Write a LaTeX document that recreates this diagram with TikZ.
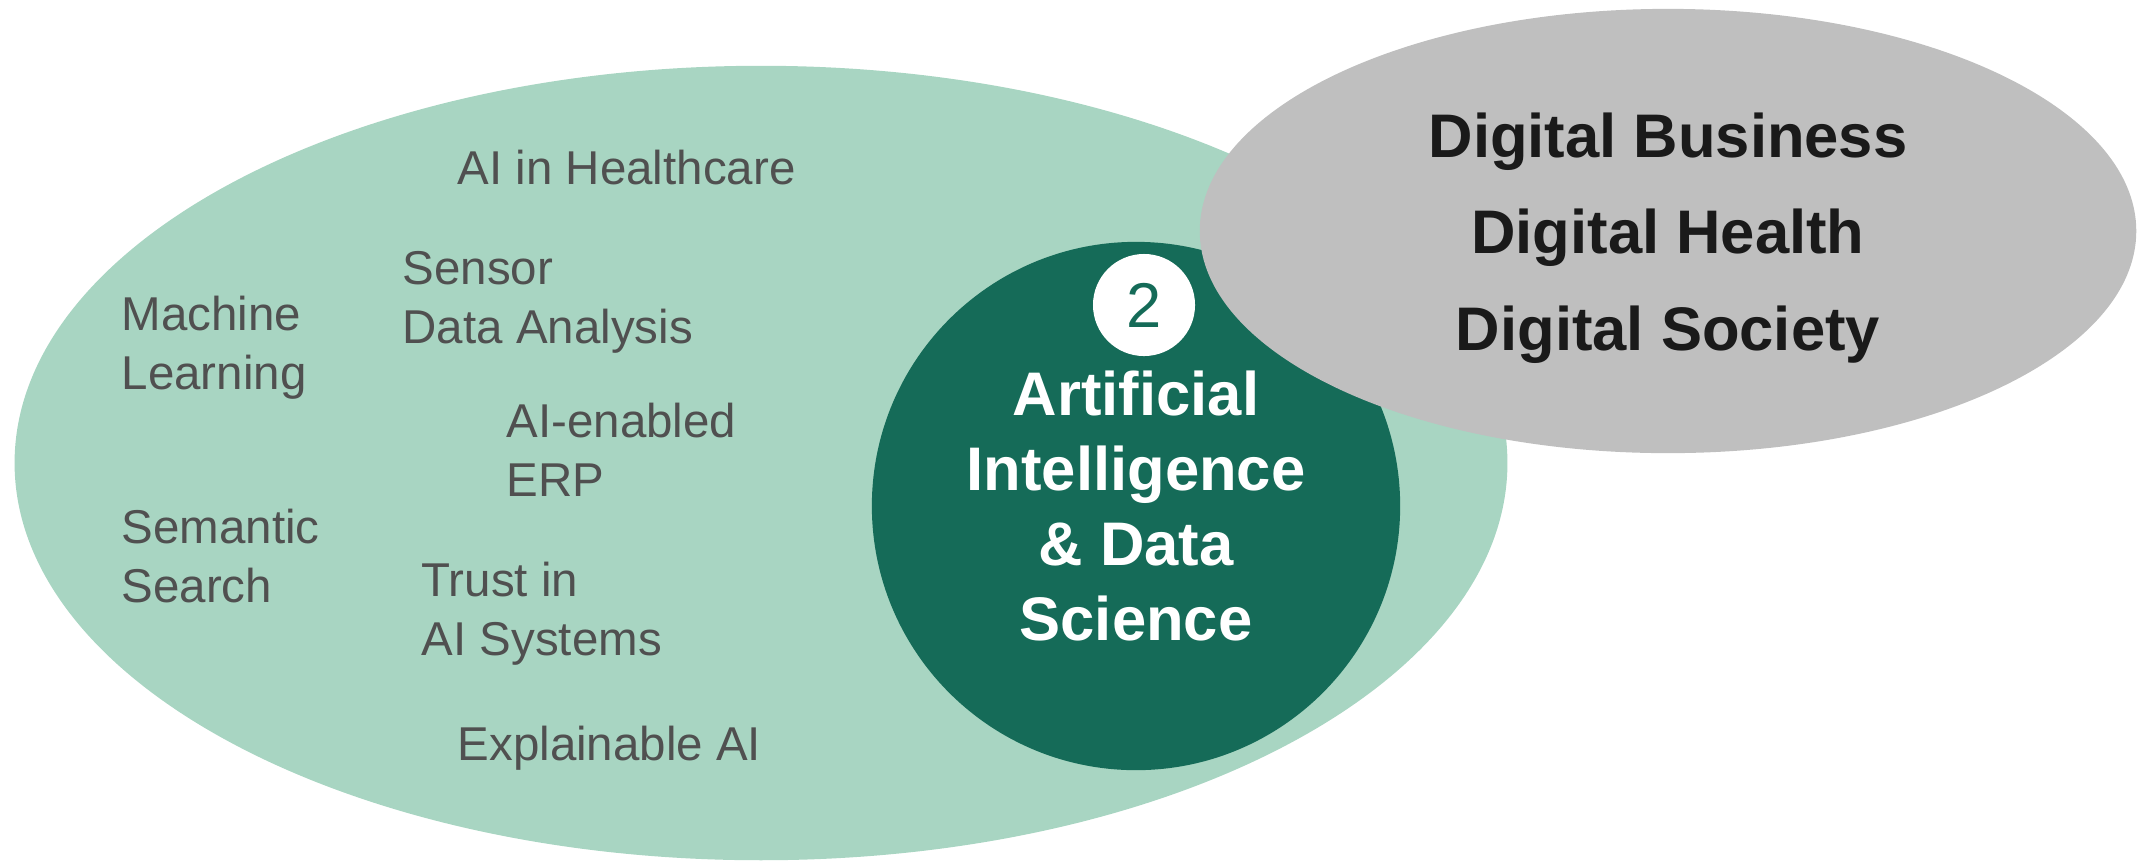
\documentclass[tikz,border=0pt]{standalone}
\usepackage{fontspec}
\setmainfont{Liberation Sans}
\usepackage{xcolor}
\usepackage{tikz}
\usetikzlibrary{shapes.geometric, positioning}
\definecolor{lightgreen}{RGB}{168, 213, 194}
\definecolor{darkgreen}{RGB}{21, 107, 88}
\definecolor{cloudgray}{RGB}{191, 191, 191}
\definecolor{topicgray}{RGB}{80, 80, 80}
\definecolor{nearblack}{RGB}{26, 26, 26}

\begin{document}
\begin{tikzpicture}[x=0.01cm, y=-0.01cm,
        blob/.style={ellipse, inner sep=0pt},
        topic/.style={anchor=base west, inner sep=0pt, align=left, text=topicgray, font=\fontsize{13.5}{16.6}\selectfont},
        core/.style={anchor=base, inner sep=0pt, align=center, text=white, font=\bfseries\fontsize{17.5}{21.3}\selectfont},
        field/.style={anchor=base, inner sep=0pt, align=center, text=nearblack, font=\bfseries\fontsize{17.5}{27.4}\selectfont}
    ]
        \useasboundingbox (0,0) rectangle (2143,860);
        % background shapes
        \node[blob, fill=lightgreen, minimum width=14.92cm, minimum height=7.94cm] (aiarea) at (761,463) {};
        \node[circle, fill=darkgreen, inner sep=0pt, minimum size=5.28cm] (aicore) at (1136,506) {};
        \node[circle, fill=white, inner sep=0pt, minimum size=1.02cm, text=darkgreen, font=\fontsize{18}{18}\selectfont] (badge) at (1144,305) {2};
        \node[blob, fill=cloudgray, minimum width=9.36cm, minimum height=4.44cm] (digital) at (1668,231) {};

        % topics in the green area (placed at the baseline of the last line)
        \node[topic] (health) at (457,184) {AI in Healthcare};
        \node[topic] (sensor) at (402,343) {Sensor\\Data Analysis};
        \node[topic] (ml) at (121,389) {Machine\\Learning};
        \node[topic] (erp) at (506,496) {AI-enabled\\ERP};
        \node[topic] (semantic) at (121,602) {Semantic\\Search};
        \node[topic] (trust) at (421,655) {Trust in\\AI Systems};
        \node[topic] (xai) at (457,760) {Explainable AI};

        % labels
        \node[core] (coretext) at (1136,640) {Artificial\\Intelligence\\\& Data\\Science};
        \node[field] (fieldtext) at (1668,350) {Digital Business\\Digital Health\\Digital Society};
    \end{tikzpicture}
\end{document}
